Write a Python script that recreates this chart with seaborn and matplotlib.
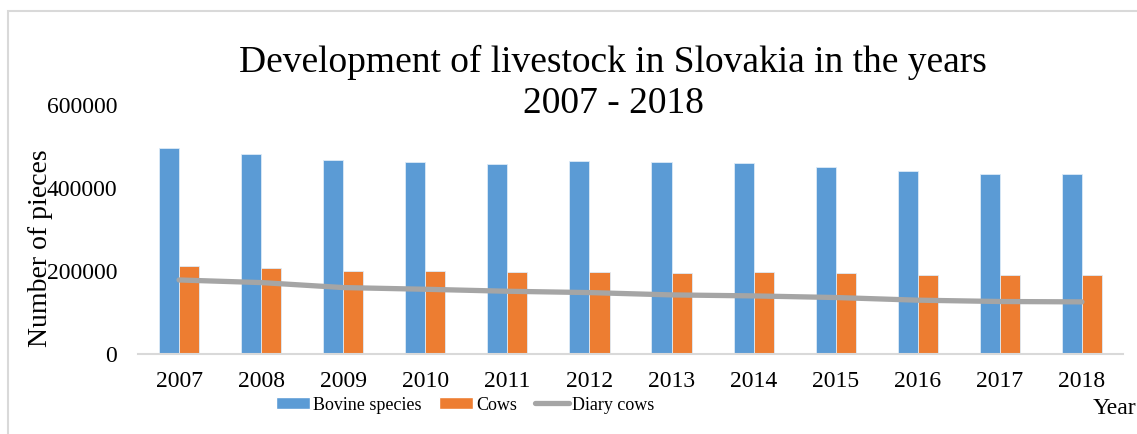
import matplotlib
matplotlib.use("Agg")
import matplotlib.pyplot as plt
import seaborn as sns
import pandas as pd
from matplotlib.patches import Rectangle, Patch
from matplotlib.lines import Line2D
from matplotlib.ticker import StrMethodFormatter

years = ["2007", "2008", "2009", "2010", "2011", "2012",
         "2013", "2014", "2015", "2016", "2017", "2018"]
bovine = [497000, 482600, 467400, 462600, 457800, 465000,
          462600, 461000, 451400, 441000, 434600, 433800]
cows = [212500, 207700, 199700, 199700, 197300, 198000,
        196000, 198000, 196000, 191300, 191300, 191300]
dairy = [178400, 172100, 160100, 156000, 151200, 148000,
         142400, 140000, 136100, 129700, 126500, 125600]
series_names = ["Bovine species", "Cows", "Diary cows"]
colors = ["#5B9BD5", "#ED7D31", "#A5A5A5"]

sns.set_theme(style="white")
plt.rcParams["font.family"] = ["Liberation Serif", "DejaVu Serif"]
plt.rcParams["text.color"] = "black"

bars = pd.DataFrame({
    "Year": years * 2,
    "value": bovine + cows,
    "series": [series_names[0]] * len(years) + [series_names[1]] * len(years),
})
line = pd.DataFrame({"Year": years, "value": dairy})

W, H = 1137, 434
fig = plt.figure(figsize=(W / 100, H / 100), dpi=100)
ax = fig.add_axes([138 / W, (H - 354) / H, (1123 - 138) / W, (354 - 105) / H])

sns.barplot(data=bars, x="Year", y="value", hue="series",
            palette=colors[:2], saturation=1, width=0.49, gap=0, ax=ax,
            edgecolor="#DDEBF7", linewidth=0.6, legend=False)
sns.lineplot(data=line, x="Year", y="value", color=colors[2],
             linewidth=3.8, sort=False, ax=ax, legend=False)

ax.set_ylim(0, 600000)
ax.set_xlim(-0.5, len(years) - 0.5)
ax.set_yticks([0, 200000, 400000, 600000])
ax.yaxis.set_major_formatter(StrMethodFormatter("{x:.0f}"))
ax.set_xlabel("")
ax.set_ylabel("")
for s in ["top", "right", "left"]:
    ax.spines[s].set_visible(False)
ax.spines["bottom"].set_color("#D9D9D9")
ax.spines["bottom"].set_linewidth(1.5)
ax.tick_params(axis="both", length=0, labelsize=17, colors="black")
ax.tick_params(axis="y", pad=15)
ax.tick_params(axis="x", pad=12)

fig.text(613 / W, 1 - 83 / H,
         "Development of livestock in Slovakia in the years\n2007 - 2018",
         ha="center", va="center", fontsize=27, linespacing=1.25,
         color="black")
fig.text(41 / W, 1 - 248 / H, "Number of pieces", rotation=90,
         ha="center", va="center", fontsize=20, color="black")
fig.text(1136 / W, 1 - 409 / H, "Year", ha="right", va="center",
         fontsize=17, color="black")

handles = [Patch(facecolor=colors[0]), Patch(facecolor=colors[1]),
           Line2D([0], [0], color=colors[2], lw=3.8)]
leg = fig.legend(handles, series_names, loc="center", ncol=3,
                 bbox_to_anchor=(465 / W, 1 - 405 / H), frameon=False,
                 fontsize=13, handlelength=1.9, handleheight=0.6,
                 handletextpad=0.15, columnspacing=1.0, borderpad=0)
for t in leg.get_texts():
    t.set_color("black")

fig.patches.append(Rectangle((8 / W, -0.1), 1.2, 0.1 + (H - 11) / H,
                             transform=fig.transFigure, fill=False,
                             edgecolor="#D9D9D9", linewidth=1.5))

fig.savefig("out.png", dpi=100)
